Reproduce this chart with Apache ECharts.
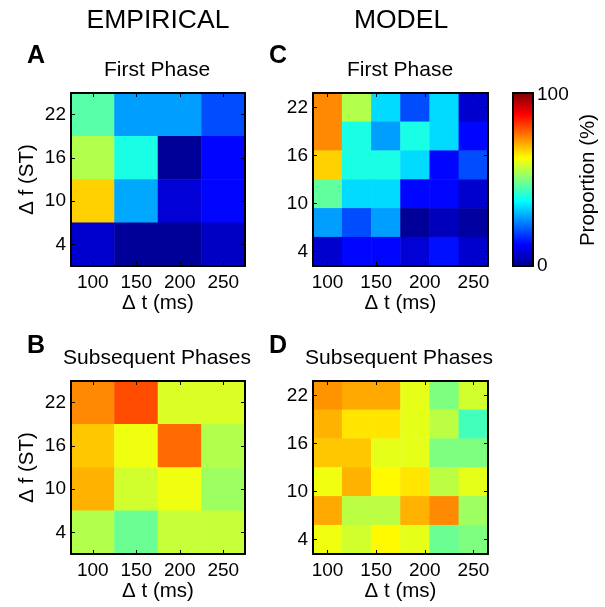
<!DOCTYPE html>
<html>
<head>
<meta charset="utf-8">
<title>Proportion heatmaps</title>
<script src="https://cdn.jsdelivr.net/npm/echarts@6/dist/echarts.min.js"></script>
<style>
  html, body { margin: 0; padding: 0; background: #fff; }
  #main { width: 605px; height: 607px; }
</style>
</head>
<body>
<div id="main"></div>
<script>
// 各面板的格子，类别从下往上
var empiricalCols = ['100', '150', '200', '250']
var empiricalRows = ['4', '10', '16', '22']
var modelCols = ['100', '130', '160', '190', '220', '250']
var modelRows = ['4', '7.6', '11.2', '14.8', '18.4', '22']

// 刻度标签
var xTicks = [100, 150, 200, 250]
var yTicks = [4, 10, 16, 22]

// 数值 (%)，每行从上 (22) 到下 (4)，列从 100 到 250
var empiricalFirst = [
    [46, 28, 28, 20],
    [55, 40, 1, 13],
    [67, 29, 8, 13],
    [7, 1, 1, 6],
]
var empiricalLater = [
    [74, 80, 59, 59],
    [68, 61, 77, 55],
    [70, 58, 61, 53],
    [55, 48, 57, 57],
]
var modelFirst = [
    [74, 55, 34, 20, 34, 7],
    [74, 40, 28, 40, 34, 13],
    [67, 40, 40, 34, 13, 20],
    [47, 34, 34, 13, 13, 7],
    [28, 20, 28, 1, 5, 2],
    [7, 13, 13, 8, 14, 7],
]
var modelLater = [
    [73, 71, 71, 60, 50, 58],
    [70, 65, 65, 60, 56, 44],
    [68, 68, 60, 60, 50, 50],
    [61, 70, 63, 65, 56, 60],
    [71, 56, 56, 70, 74, 53],
    [61, 58, 63, 60, 48, 50],
]

var jet = ['#00008f', '#0000ff', '#007fff', '#00ffff', '#7fff7f', '#ffff00', '#ff7f00', '#ff0000', '#7f0000']
var font = 'Liberation Sans, Arial, sans-serif'

// 把矩阵变成 [x, y, value]，y 从下往上数
var toCells = function(matrix) {
    var cells = []
    var n = matrix.length
    for (var r = 0; r < n; r++) {
        for (var c = 0; c < matrix[r].length; c++) {
            cells.push([c, n - 1 - r, matrix[r][c]])
        }
    }
    return cells
}

var panels = [
    {left: 71, top: 93, width: 174, cols: empiricalCols, rows: empiricalRows, data: empiricalFirst, yName: true},
    {left: 313, top: 93, width: 175, cols: modelCols, rows: modelRows, data: modelFirst, yName: false},
    {left: 71, top: 381, width: 174, cols: empiricalCols, rows: empiricalRows, data: empiricalLater, yName: true},
    {left: 313, top: 381, width: 175, cols: modelCols, rows: modelRows, data: modelLater, yName: false},
]

var grids = []
var xAxes = []
var yAxes = []
var series = []
var lineStyle = {color: '#000', width: 2}

for (var i = 0; i < panels.length; i++) {
    var p = panels[i]
    grids.push({left: p.left, top: p.top, width: p.width, height: 173})

    // 格子间距，数值轴的范围要多出半格
    var nx = p.cols.length
    var ny = p.rows.length
    var dx = (250 - 100) / (nx - 1)
    var dy = (22 - 4) / (ny - 1)

    var xCat = xAxes.length
    xAxes.push({type: 'category', gridIndex: i, data: p.cols, show: false})
    xAxes.push({
        type: 'value', gridIndex: i, position: 'bottom', z: 10,
        min: 100 - dx / 2, max: 250 + dx / 2,
        axisLine: {show: true, lineStyle: lineStyle},
        axisTick: {show: true, inside: true, length: 4, customValues: xTicks, lineStyle: {color: '#000'}},
        axisLabel: {customValues: xTicks, color: '#000', fontSize: 19, fontFamily: font, margin: 7},
        splitLine: {show: false},
        name: 'Δ t (ms)', nameLocation: 'middle', nameGap: 27,
        nameTextStyle: {color: '#000', fontSize: 20.5, fontFamily: font},
    })
    xAxes.push({
        type: 'value', gridIndex: i, position: 'top', z: 10,
        min: 100 - dx / 2, max: 250 + dx / 2,
        axisLine: {show: true, lineStyle: lineStyle},
        axisTick: {show: true, inside: true, length: 4, customValues: xTicks, lineStyle: {color: '#000'}},
        axisLabel: {show: false},
        splitLine: {show: false},
    })

    var yCat = yAxes.length
    yAxes.push({type: 'category', gridIndex: i, data: p.rows, show: false})
    var yLeft = {
        type: 'value', gridIndex: i, position: 'left', z: 10,
        min: 4 - dy / 2, max: 22 + dy / 2,
        axisLine: {show: true, lineStyle: lineStyle},
        axisTick: {show: true, inside: true, length: 4, customValues: yTicks, lineStyle: {color: '#000'}},
        axisLabel: {customValues: yTicks, color: '#000', fontSize: 19, fontFamily: font, margin: 5},
        splitLine: {show: false},
    }
    if (p.yName) {
        yLeft.name = 'Δ f (ST)'
        yLeft.nameLocation = 'middle'
        yLeft.nameGap = 33
        yLeft.nameTextStyle = {color: '#000', fontSize: 20.5, fontFamily: font}
    }
    yAxes.push(yLeft)
    yAxes.push({
        type: 'value', gridIndex: i, position: 'right', z: 10,
        min: 4 - dy / 2, max: 22 + dy / 2,
        axisLine: {show: true, lineStyle: lineStyle},
        axisTick: {show: true, inside: true, length: 4, customValues: yTicks, lineStyle: {color: '#000'}},
        axisLabel: {show: false},
        splitLine: {show: false},
    })

    series.push({
        type: 'heatmap',
        xAxisIndex: xCat,
        yAxisIndex: yCat,
        data: toCells(p.data),
        emphasis: {disabled: true},
        progressive: 0,
    })
}

var textStyle = function(text, x, y, size, bold) {
    return {
        type: 'text', x: x, y: y, z: 100,
        style: {
            text: text, fill: '#000', fontSize: size, fontFamily: font,
            fontWeight: bold ? 'bold' : 'normal',
            align: 'center', verticalAlign: 'middle',
        },
    }
}

var labels = [
    textStyle('EMPIRICAL', 158, 21, 26.5, false),
    textStyle('MODEL', 401, 21, 26.5, false),
    textStyle('A', 36, 56, 25, true),
    textStyle('C', 278, 56, 25, true),
    textStyle('B', 36, 346, 25, true),
    textStyle('D', 278, 346, 25, true),
    textStyle('First Phase', 157, 70, 21, false),
    textStyle('First Phase', 400, 70, 21, false),
    textStyle('Subsequent Phases', 157, 358, 21, false),
    textStyle('Subsequent Phases', 399, 358, 21, false),
]
// 色条旁边的文字
labels.push({
    type: 'text', x: 537, y: 95, z: 100,
    style: {text: '100', fill: '#000', fontSize: 19, fontFamily: font, align: 'left', verticalAlign: 'middle'},
})
labels.push({
    type: 'text', x: 537, y: 266, z: 100,
    style: {text: '0', fill: '#000', fontSize: 19, fontFamily: font, align: 'left', verticalAlign: 'middle'},
})
labels.push({
    type: 'text', x: 588, y: 180, rotation: Math.PI / 2, z: 100,
    style: {text: 'Proportion (%)', fill: '#000', fontSize: 20.5, fontFamily: font, align: 'center', verticalAlign: 'middle'},
})
// 色条的黑框
labels.push({
    type: 'rect', z: 100,
    shape: {x: 513, y: 93, width: 20, height: 173},
    style: {fill: 'none', stroke: '#000', lineWidth: 2},
})

var chart = echarts.init(document.getElementById('main'))
var option = {
    animation: false,
    grid: grids,
    xAxis: xAxes,
    yAxis: yAxes,
    visualMap: {
        type: 'continuous',
        min: 0,
        max: 100,
        calculable: false,
        hoverLink: false,
        orient: 'vertical',
        left: 513,
        top: 93,
        padding: 0,
        itemWidth: 20,
        itemHeight: 173,
        text: null,
        showLabel: false,
        inRange: {color: jet},
    },
    graphic: labels,
    series: series,
}
chart.setOption(option)
</script>
</body>
</html>
